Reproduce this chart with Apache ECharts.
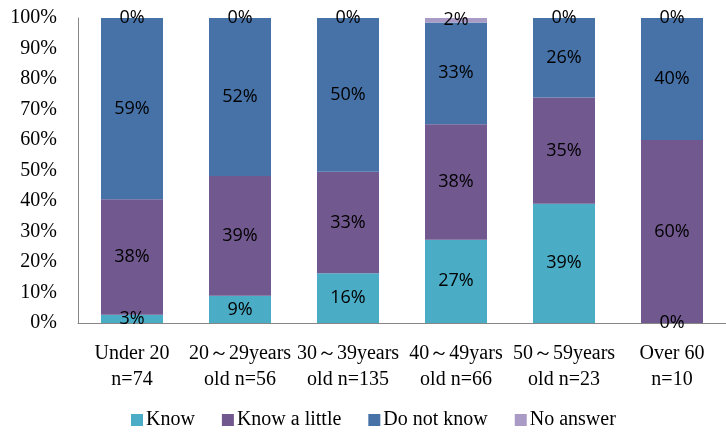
<!DOCTYPE html>
<html>
<head>
<meta charset="utf-8">
<script src="https://cdn.jsdelivr.net/npm/echarts@6/dist/echarts.min.js"></script>
<style>
  html, body { margin: 0; padding: 0; background: #fff; }
  #chart { width: 726px; height: 432px; }
</style>
</head>
<body>
<div id="chart"></div>
<script>
// Awareness by age group (share of respondents, %)
const categories = [
  'Under 20\nn=74',
  '20～29years\nold n=56',
  '30～39years\nold n=135',
  '40～49yars\nold n=66',
  '50～59years\nold n=23',
  'Over 60\nn=10'
];
const know        = [2.7, 8.9, 16.3, 27.3, 39.1, 0];
const knowALittle = [37.9, 39.3, 33.3, 37.9, 34.8, 60];
const doNotKnow   = [59.4, 51.8, 50.4, 33.3, 26.1, 40];
const noAnswer    = [0, 0, 0, 1.5, 0, 0];
const yTicks = [0, 10, 20, 30, 40, 50, 60, 70, 80, 90, 100];

const serif = "'Liberation Serif', 'Times New Roman', serif";
const sans = "'Open Sans', 'Noto Sans', sans-serif";

function barSeries(name, data, color) {
  return {
    name: name,
    type: 'bar',
    stack: 'total',
    barWidth: 62,
    data: data,
    itemStyle: { color: color },
    label: {
      show: true,
      position: 'inside',
      color: '#000',
      fontFamily: sans,
      fontSize: 18,
      formatter: p => Math.round(p.value) + '%'
    },
    emphasis: { disabled: true }
  };
}

const chart = echarts.init(document.getElementById('chart'));
chart.setOption({
  animation: false,
  backgroundColor: '#fff',
  grid: { left: 78, top: 18, width: 655, height: 305 },
  legend: {
    left: 126,
    top: 405,
    itemWidth: 12,
    itemHeight: 12,
    itemGap: 27,
    icon: 'rect',
    textStyle: { fontFamily: serif, fontSize: 20, color: '#000', padding: [0, 0, 0, -2] },
    data: ['Know', 'Know a little', 'Do not know', 'No answer']
  },
  xAxis: {
    type: 'category',
    data: categories,
    axisLine: { lineStyle: { color: '#868686' } },
    axisTick: { show: false },
    axisLabel: {
      interval: 0,
      margin: 18,
      fontFamily: serif,
      fontSize: 20,
      lineHeight: 26,
      color: '#000'
    }
  },
  yAxis: {
    type: 'value',
    min: yTicks[0],
    max: yTicks[yTicks.length - 1],
    interval: yTicks[1] - yTicks[0],
    splitLine: { show: false },
    axisLine: { show: true, lineStyle: { color: '#868686' } },
    axisTick: { show: false },
    axisLabel: {
      margin: 21,
      fontFamily: serif,
      fontSize: 20,
      color: '#000',
      formatter: '{value}%'
    }
  },
  series: [
    barSeries('Know', know, '#4bacc6'),
    barSeries('Know a little', knowALittle, '#71588f'),
    barSeries('Do not know', doNotKnow, '#4672a8'),
    barSeries('No answer', noAnswer, '#a99bc5')
  ]
});
</script>
</body>
</html>
